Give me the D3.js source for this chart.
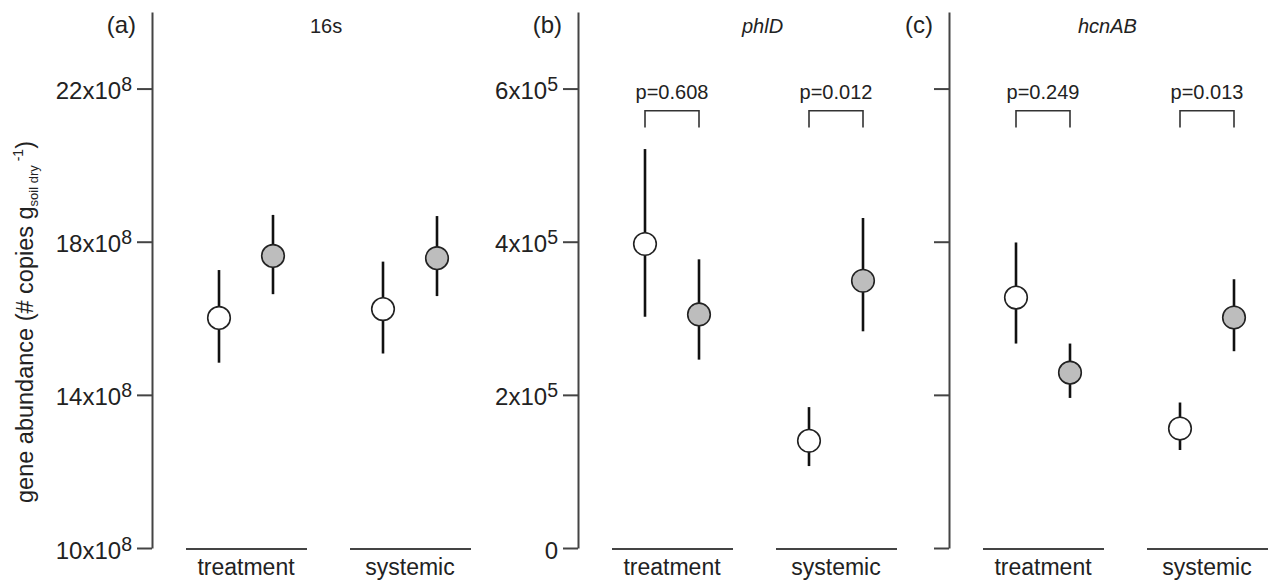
<!DOCTYPE html>
<html>
<head>
<meta charset="utf-8">
<script src="https://cdn.jsdelivr.net/npm/d3@7"></script>
<style>
  body { margin: 0; background: #fff; }
  svg { display: block; font-family: "Liberation Sans", Arial, sans-serif; }
</style>
</head>
<body>
<div id="chart"></div>
<script>
// Groups and the two point types (open / filled) in each group
var groups = ["treatment", "systemic"];
var series = ["open", "filled"];

// Values are listed as: treatment-open, treatment-filled, systemic-open, systemic-filled
// (a) 16s, in 10^8 copies
var mean16s = [16.01, 17.63, 16.24, 17.57];
var low16s  = [14.84, 16.63, 15.08, 16.58];
var high16s = [17.26, 18.70, 17.48, 18.67];

// (b) phlD, in 10^5 copies
var meanPhlD = [3.97, 3.05, 1.40, 3.49];
var lowPhlD  = [3.02, 2.46, 1.07, 2.83];
var highPhlD = [5.21, 3.77, 1.84, 4.31];

// (c) hcnAB, same axis as (b)
var meanHcn = [3.27, 2.29, 1.56, 3.01];
var lowHcn  = [2.67, 1.96, 1.28, 2.57];
var highHcn = [3.99, 2.67, 1.90, 3.51];

// Axis ticks
var ticks16s = [10, 14, 18, 22];
var ticksGenes = [0, 2, 4, 6];

// p-values, one per group
var pPhlD = ["p=0.608", "p=0.012"];
var pHcn = ["p=0.249", "p=0.013"];

var W = 1268, H = 582;
var plotTop = 12, plotBottom = 548;

var panels = [
  {letter: "(a)", title: "16s", italic: false, axisX: 152, titleX: 310,
   domain: [10, 24], ticks: ticks16s, exp: "8", labels: true,
   mean: mean16s, low: low16s, high: high16s, p: null},
  {letter: "(b)", title: "phlD", italic: true, axisX: 578, titleX: 742,
   domain: [0, 7], ticks: ticksGenes, exp: "5", labels: true,
   mean: meanPhlD, low: lowPhlD, high: highPhlD, p: pPhlD},
  {letter: "(c)", title: "hcnAB", italic: true, axisX: 949, titleX: 1078,
   domain: [0, 7], ticks: ticksGenes, exp: "5", labels: false,
   mean: meanHcn, low: lowHcn, high: highHcn, p: pHcn}
];

// bracket / label heights for p-values (in axis units of b and c)
var pText = 5.86, pTop = 5.71, pLeg = 5.49;

var svg = d3.select("#chart").append("svg")
  .attr("width", W)
  .attr("height", H);

// Y axis title
var yt = svg.append("text")
  .attr("transform", "rotate(-90)")
  .attr("x", -503)
  .attr("y", 33)
  .attr("fill", "#222")
  .style("font-size", "23.5px");
yt.append("tspan").text("gene abundance (# copies g");
yt.append("tspan").attr("dy", 5).style("font-size", "13px").text("soil dry");
yt.append("tspan").attr("dy", -15).style("font-size", "14px").text("\u00a0-1");
yt.append("tspan").attr("dy", 10).text(")");

panels.forEach(function(p) {
  var y = d3.scaleLinear().domain(p.domain).range([plotBottom, plotTop]);
  var xg = d3.scalePoint().domain(groups).range([p.axisX + 94, p.axisX + 258]);
  var xs = d3.scalePoint().domain(series).range([-27, 27]);

  var g = svg.append("g");

  // Y axis
  var ax = g.append("g")
    .attr("transform", "translate(" + p.axisX + ",0)")
    .call(d3.axisLeft(y).tickValues(p.ticks).tickSize(15).tickSizeOuter(0).tickPadding(5));
  ax.selectAll("path, line").attr("stroke", "#444").attr("stroke-width", 2);
  ax.selectAll("text").remove();
  if (p.labels) {
    ax.selectAll(".tick").append("text")
      .attr("x", -20)
      .attr("dy", "0.42em")
      .attr("fill", "#222")
      .attr("text-anchor", "end")
      .style("font-size", "24px")
      .each(function(v) {
        var t = d3.select(this);
        if (v === 0) { t.text("0"); return; }
        t.append("tspan").text(v + "x10");
        t.append("tspan").attr("dy", -8).style("font-size", "19.5px").text(p.exp);
      });
  }

  // Panel letter and title
  g.append("text")
    .attr("x", p.axisX - 16)
    .attr("y", 33)
    .attr("text-anchor", "end")
    .attr("fill", "#222")
    .style("font-size", "24px")
    .text(p.letter);
  g.append("text")
    .attr("x", p.titleX)
    .attr("y", 33)
    .attr("fill", "#222")
    .style("font-size", "20px")
    .style("font-style", p.italic ? "italic" : "normal")
    .text(p.title);

  // Group underlines and labels
  groups.forEach(function(grp) {
    g.append("line")
      .attr("x1", xg(grp) - 60).attr("x2", xg(grp) + 61)
      .attr("y1", plotBottom + 1).attr("y2", plotBottom + 1)
      .attr("stroke", "#444").attr("stroke-width", 2);
    g.append("text")
      .attr("x", xg(grp))
      .attr("y", 575)
      .attr("text-anchor", "middle")
      .attr("fill", "#222")
      .style("font-size", "23px")
      .text(grp);
  });

  // p-value brackets
  if (p.p) {
    groups.forEach(function(grp, gi) {
      var x1 = xg(grp) + xs("open"), x2 = xg(grp) + xs("filled");
      g.append("path")
        .attr("d", "M" + x1 + "," + y(pLeg) + "V" + y(pTop) + "H" + x2 + "V" + y(pLeg))
        .attr("fill", "none")
        .attr("stroke", "#333")
        .attr("stroke-width", 1.6);
      g.append("text")
        .attr("x", xg(grp))
        .attr("y", y(pText))
        .attr("text-anchor", "middle")
        .attr("fill", "#222")
        .style("font-size", "20px")
        .text(p.p[gi]);
    });
  }

  // points
  var rows = [];
  groups.forEach(function(grp, gi) {
    series.forEach(function(s, si) {
      var k = gi * 2 + si;
      rows.push({group: grp, series: s, mean: p.mean[k], low: p.low[k], high: p.high[k]});
    });
  });

  g.selectAll("line.err").data(rows).enter().append("line")
    .attr("class", "err")
    .attr("x1", function(d) { return xg(d.group) + xs(d.series); })
    .attr("x2", function(d) { return xg(d.group) + xs(d.series); })
    .attr("y1", function(d) { return y(d.low); })
    .attr("y2", function(d) { return y(d.high); })
    .attr("stroke", "#111")
    .attr("stroke-width", 2.6);

  g.selectAll("circle.pt").data(rows).enter().append("circle")
    .attr("class", "pt")
    .attr("cx", function(d) { return xg(d.group) + xs(d.series); })
    .attr("cy", function(d) { return y(d.mean); })
    .attr("r", 11.3)
    .attr("fill", function(d) { return d.series === "open" ? "#fff" : "#bdbdbd"; })
    .attr("stroke", "#222")
    .attr("stroke-width", 1.6);
});
</script>
</body>
</html>
